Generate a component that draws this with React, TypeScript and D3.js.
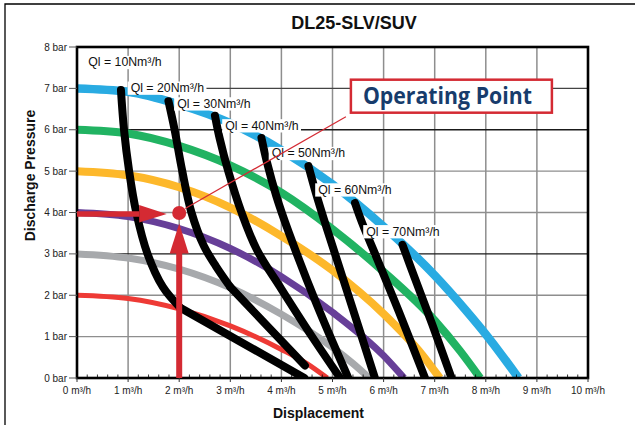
import React from 'react'
import * as d3 from 'd3'

// pump curves at different air inlet pressures: [m³/h, bar]
const curve7bar = [[0, 7], [1, 6.92], [2, 6.61], [3, 6.16], [4, 5.51], [5, 4.68], [6, 3.66], [7, 2.48], [7.6, 1.65], [8.1, 0.9], [8.64, 0]]
const curve6bar = [[0, 6], [1, 5.91], [2, 5.61], [3, 5.14], [4, 4.48], [5, 3.6], [6, 2.57], [7, 1.39], [7.5, 0.65], [7.89, 0]]
const curve5bar = [[0, 5], [1, 4.9], [2, 4.61], [3, 4.12], [4, 3.43], [5, 2.6], [6, 1.55], [6.75, 0.57], [7.1, 0]]
const curve4bar = [[0, 4], [1, 3.9], [2, 3.61], [3, 3.13], [4, 2.45], [5, 1.59], [6, 0.54], [6.4, 0]]
const curve3bar = [[0, 3], [1, 2.9], [2, 2.63], [3, 2.18], [4, 1.54], [5, 0.74], [5.4, 0.35], [5.72, 0]]
const curve2bar = [[0, 2], [1, 1.92], [2, 1.67], [3, 1.26], [4, 0.69], [4.5, 0.35], [4.9, 0]]

// air consumption lines: curved part, then (where it bends) a straight part
const ql10 = [[[0.86, 6.96], [0.92, 6.0], [1.02, 5.0], [1.16, 4.0], [1.38, 3.0], [1.68, 2.2], [2.02, 1.7]], [[2.02, 1.7], [4.45, 0]]]
const ql20 = [[[1.79, 6.69], [1.91, 6.0], [2.06, 5.0], [2.24, 4.0], [2.48, 3.2], [2.72, 2.7], [3.0, 2.2]], [[3.0, 2.2], [4.46, 0.3]]]
const ql30 = [[[2.7, 6.34], [2.79, 5.8], [2.96, 5.0], [3.22, 4.0], [3.52, 3.1], [4.0, 2.15], [4.6, 1.0], [5.15, 0]]]
const ql40 = [[[3.61, 5.8], [3.72, 5.2], [3.9, 4.4], [4.15, 3.5], [4.7, 1.75], [5.31, 0]]]
const ql50 = [[[4.53, 5.12], [4.68, 4.45], [4.88, 3.65], [5.35, 1.85], [5.83, 0]]]
const ql60 = [[[5.44, 4.23], [5.58, 3.75], [5.85, 2.95], [6.3, 1.6], [6.81, 0]]]
const ql70 = [[[6.37, 3.22], [6.6, 2.45], [6.95, 1.3], [7.33, 0]]]

const qlLabels = ['Ql = 10Nm³/h', 'Ql = 20Nm³/h', 'Ql = 30Nm³/h', 'Ql = 40Nm³/h', 'Ql = 50Nm³/h', 'Ql = 60Nm³/h', 'Ql = 70Nm³/h']
const qlLabelX = [0.22, 1.05, 1.96, 2.9, 3.81, 4.72, 5.66]
const qlLabelY = [7.53, 6.91, 6.53, 6.0, 5.33, 4.45, 3.44]

const xTicks = [0, 1, 2, 3, 4, 5, 6, 7, 8, 9, 10]
const yTicks = [0, 1, 2, 3, 4, 5, 6, 7, 8]
const xTickLabels = xTicks.map(v => `${v} m³/h`)
const yTickLabels = yTicks.map(v => `${v} bar`)

const opPoint = [2, 4]
const calloutAt = [5.36, 7.21]

const W = 635
const H = 425
const font = '"Liberation Sans", Arial, sans-serif'

const x = d3.scaleLinear().domain([0, 10]).range([77, 588])
const y = d3.scaleLinear().domain([0, 8]).range([378, 47])

const pumpCurves = [
  { data: curve2bar, color: '#ee3a35', width: 5 },
  { data: curve3bar, color: '#a7a9ac', width: 7 },
  { data: curve4bar, color: '#673f98', width: 7 },
  { data: curve5bar, color: '#fdb82b', width: 8 },
  { data: curve6bar, color: '#21b362', width: 8 },
  { data: curve7bar, color: '#29abe2', width: 8.5 },
]
const qlLines = [ql10, ql20, ql30, ql40, ql50, ql60, ql70]

export default function App() {
  const pumpLine = d3.line<number[]>().x(d => x(d[0])).y(d => y(d[1])).curve(d3.curveMonotoneX)
  const qlLine = d3.line<number[]>().x(d => x(d[0])).y(d => y(d[1])).curve(d3.curveCatmullRom.alpha(0.5))
  const straight = d3.line<number[]>().x(d => x(d[0])).y(d => y(d[1]))

  const minor: number[] = []
  for (let i = 0; i < 50; i++) if (i % 5 !== 0) minor.push(i / 5)

  const hGridColor = (v: number) => (v === 6 || v === 3 ? '#1a1a1a' : v === 7 ? '#444' : '#8e8e8e')

  const px = x(opPoint[0])
  const py = y(opPoint[1])
  const bx = x(calloutAt[0])
  const by = y(calloutAt[1])
  const red = '#d42a33'

  return (
    <svg width={W} height={H} style={{ position: 'absolute', left: 0, top: 0, background: '#fff' }} fontFamily={font}>
      <defs>
        <clipPath id="plot">
          <rect x={x(0)} y={y(8)} width={x(10) - x(0)} height={y(0) - y(8)} />
        </clipPath>
      </defs>
      <rect width={W} height={H} fill="#fff" />
      <path d={`M5,${H} V4 H${W}`} fill="none" stroke="#000" strokeWidth={1.3} />

      <text x={354} y={29} textAnchor="middle" fontSize={18} fontWeight="bold" fill="#111">DL25-SLV/SUV</text>

      {/* grid */}
      {xTicks.map(v => (
        <line key={'gx' + v} x1={x(v)} x2={x(v)} y1={y(0)} y2={y(8)} stroke="#8e8e8e" strokeWidth={1.5} />
      ))}
      {yTicks.map(v => (
        <line key={'gy' + v} x1={x(0)} x2={x(10)} y1={y(v)} y2={y(v)} stroke={hGridColor(v)} strokeWidth={1.4} />
      ))}

      <g clipPath="url(#plot)">
        {pumpCurves.map((c, i) => (
          <path key={'pc' + i} d={pumpLine(c.data) || ''} fill="none" stroke={c.color} strokeWidth={c.width} />
        ))}
        {qlLines.map((segs, i) =>
          segs.map((s, j) => (
            <path key={'ql' + i + '-' + j} d={(j === 0 ? qlLine(s) : straight(s)) || ''}
              fill="none" stroke="#000" strokeWidth={8} strokeLinecap="round" strokeLinejoin="round" />
          ))
        )}
      </g>

      {/* Ql labels */}
      {qlLabels.map((t, i) => {
        const fs = 12.3
        const w = fs * 6.0
        return (
          <g key={'lbl' + i}>
            <rect x={x(qlLabelX[i]) - 3} y={y(qlLabelY[i]) - fs * 0.86} width={w + 5} height={fs + 1} fill="#fff" />
            <text x={x(qlLabelX[i])} y={y(qlLabelY[i])} fontSize={fs} fill="#111">{t}</text>
          </g>
        )
      })}

      {/* axes frame and ticks */}
      <rect x={x(0)} y={y(8)} width={x(10) - x(0)} height={y(0) - y(8)} fill="none" stroke="#000" strokeWidth={2.6} />
      {minor.map(v => (
        <line key={'mt' + v} x1={x(v)} x2={x(v)} y1={y(0)} y2={y(0) - 3.5} stroke="#000" strokeWidth={0.8} />
      ))}
      {xTicks.map((v, i) => (
        <g key={'xt' + v}>
          <line x1={x(v)} x2={x(v)} y1={y(0)} y2={y(0) + 4} stroke="#333" strokeWidth={1} />
          <text x={x(v)} y={394} textAnchor="middle" fontSize={10} fill="#222">{xTickLabels[i]}</text>
        </g>
      ))}
      {yTicks.map((v, i) => (
        <g key={'yt' + v}>
          <line x1={x(0) - 8} x2={x(0)} y1={y(v)} y2={y(v)} stroke="#555" strokeWidth={1} />
          <text x={67} y={y(v) + 3.5} textAnchor="end" fontSize={10} fill="#222">{yTickLabels[i]}</text>
        </g>
      ))}

      <text x={318.5} y={418} textAnchor="middle" fontSize={14} fontWeight="bold" fill="#111">Displacement</text>
      <text transform="translate(35,175.5) rotate(-90)" textAnchor="middle" fontSize={14} fontWeight="bold" fill="#111">Discharge Pressure</text>

      {/* operating point arrows */}
      <line x1={x(0)} x2={px - 40} y1={py + 1.5} y2={py + 1.5} stroke={red} strokeWidth={5.5} />
      <path d={`M${px - 40},${py - 7.5} L${px - 12.5},${py + 1.5} L${px - 40},${py + 10} Z`} fill={red} />
      <line x1={px} x2={px} y1={y(0)} y2={py + 40} stroke={red} strokeWidth={6} />
      <path d={`M${px - 9.5},${py + 41} L${px},${py + 11} L${px + 9.5},${py + 41} Z`} fill={red} />
      <circle cx={px} cy={py + 0.5} r={7} fill={red} />
      <line x1={px + 6} x2={bx - 5} y1={py - 4} y2={by + 37} stroke={red} strokeWidth={1.2} />

      <rect x={bx} y={by} width={201} height={33} fill="#fff" stroke={red} strokeWidth={2.5} />
      <text x={bx + 12} y={by + 24} fontSize={23} fontWeight="bold" fill="#173c6c" fontFamily='"Open Sans", sans-serif'
        textLength={169} lengthAdjust="spacingAndGlyphs">Operating Point</text>
    </svg>
  )
}
